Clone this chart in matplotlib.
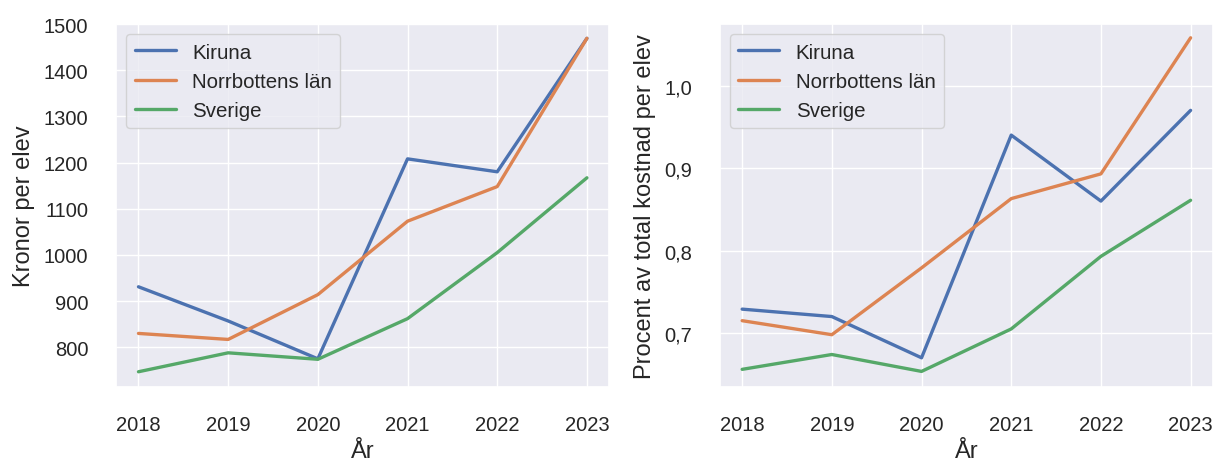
import matplotlib
matplotlib.use("Agg")
import matplotlib.pyplot as plt
import matplotlib.ticker as mticker
import seaborn as sns

years = [2018, 2019, 2020, 2021, 2022, 2023]
kr_kiruna = [931, 857, 775, 1208, 1180, 1469]
kr_norrbotten = [830, 817, 914, 1073, 1148, 1469]
kr_sverige = [747, 788, 774, 862, 1005, 1167]

pct_kiruna = [0.729, 0.720, 0.670, 0.940, 0.860, 0.970]
pct_norrbotten = [0.715, 0.698, 0.779, 0.863, 0.893, 1.058]
pct_sverige = [0.656, 0.674, 0.6535, 0.705, 0.793, 0.861]

labels = ["Kiruna", "Norrbottens län", "Sverige"]

sns.set_theme(style="darkgrid")
plt.rcParams['font.family'] = ['Liberation Sans', 'DejaVu Sans']
plt.rcParams.update({
    'font.size': 14.5, 'axes.labelsize': 17, 'xtick.labelsize': 14.5,
    'ytick.labelsize': 14.5, 'legend.fontsize': 14.8,
    'xtick.major.pad': 14.5, 'ytick.major.pad': 14,
})

fig, (ax1, ax2) = plt.subplots(1, 2, figsize=(12.19, 4.64), dpi=100)
fig.subplots_adjust(left=0.0952, right=0.9951, top=0.9461, bottom=0.1638, wspace=0.2238)

for vals, lab in zip([kr_kiruna, kr_norrbotten, kr_sverige], labels):
    ax1.plot(years, vals, label=lab, linewidth=2.4)
ax1.set_ylabel("Kronor per elev", labelpad=6)
ax1.set_xlabel("År", labelpad=4)
ax1.set_ylim(714, 1500)
ax1.set_xticks(years)
ax1.legend(loc="upper left")

for vals, lab in zip([pct_kiruna, pct_norrbotten, pct_sverige], labels):
    ax2.plot(years, vals, label=lab, linewidth=2.4)
ax2.set_ylabel("Procent av total kostnad per elev", labelpad=6)
ax2.set_xlabel("År", labelpad=4)
ax2.set_ylim(0.6346, 1.0747)
ax2.set_xticks(years)
ax2.yaxis.set_major_locator(mticker.MultipleLocator(0.1))
ax2.yaxis.set_major_formatter(mticker.FuncFormatter(lambda v, p: f"{v:.1f}".replace(".", ",")))
ax2.legend(loc="upper left")

fig.savefig("out.png", dpi=100)
